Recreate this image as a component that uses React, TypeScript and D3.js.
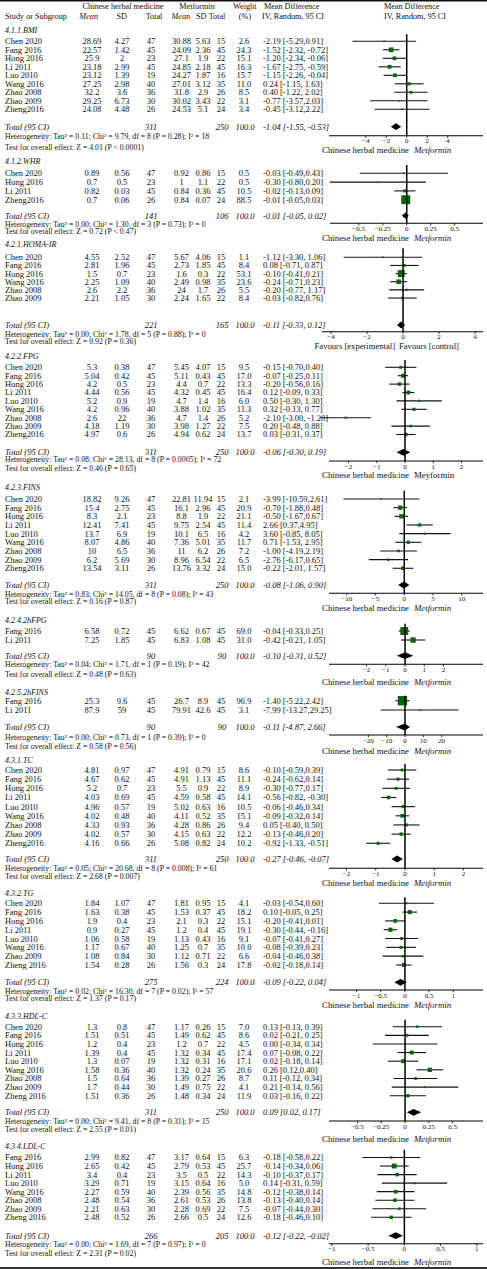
import React from "react";
import * as d3 from "d3";

// ---------- DATA ----------
// [study, expMean, expSD, expN, ctlMean, ctlSD, ctlN, weight, ciText, md, lo, hi]
type Row = [string, string, string, string, string, string, string, string, string, number, number, number];
type Total = [string, string, string, string, number, number, number];

const BMI_ROWS: Row[] = [
  ["Chen 2020", "28.69", "4.27", "47", "30.88", "5.63", "15", "2.6", "-2.19 [-5.29,0.91]", -2.19, -5.29, 0.91],
  ["Fang 2016", "22.57", "1.42", "45", "24.09", "2.36", "45", "24.3", "-1.52 [-2.32, -0.72]", -1.52, -2.32, -0.72],
  ["Hong 2016", "25.9", "2", "23", "27.1", "1.9", "22", "15.1", "-1.20 [-2.34, -0.06]", -1.2, -2.34, -0.06],
  ["Li 2011", "23.18", "2.99", "45", "24.85", "2.18", "45", "16.3", "-1.67 [-2.75, -0.59]", -1.67, -2.75, -0.59],
  ["Luo 2010", "23.12", "1.39", "19", "24.27", "1.87", "16", "15.7", "-1.15 [-2.26, -0.04]", -1.15, -2.26, -0.04],
  ["Wang 2016", "27.25", "2.98", "40", "27.01", "3.12", "35", "11.0", "0.24 [-1.15, 1.63]", 0.24, -1.15, 1.63],
  ["Zhao 2008", "32.2", "3.6", "36", "31.8", "2.9", "26", "8.5", "0.40 [-1.22, 2.02]", 0.4, -1.22, 2.02],
  ["Zhao 2009", "29.25", "6.73", "30", "30.02", "3.43", "22", "3.1", "-0.77 [-3.57,2.03]", -0.77, -3.57, 2.03],
  ["Zheng2016", "24.08", "4.48", "26", "24.53", "5.1", "24", "3.4", "-0.45 [-3.12,2.22]", -0.45, -3.12, 2.22],
];
const BMI_TOTAL: Total = ["311", "250", "100.0", "-1.04 [-1.55, -0.53]", -1.04, -1.55, -0.53];
const BMI_HET = "Heterogeneity: Tau\u00B2 = 0.11; Chi\u00B2 = 9.79, df = 8 (P = 0.28); I\u00B2 = 18";
const BMI_TEST = "Test for overall effect: Z = 4.01 (P < 0.0001)";
const BMI_TICKS = [-4, -2, 0, 2, 4];
const BMI_DOMAIN = [-7.58, 7.44];

const WHR_ROWS: Row[] = [
  ["Chen 2020", "0.89", "0.56", "47", "0.92", "0.86", "15", "0.5", "-0.03 [-0.49,0.43]", -0.03, -0.49, 0.43],
  ["Hong 2016", "0.7", "0.5", "23", "1", "1.1", "22", "0.5", "-0.30 [-0.80,0.20]", -0.3, -0.8, 0.2],
  ["Li 2011", "0.82", "0.03", "45", "0.84", "0.36", "45", "10.5", "-0.02 [-0.13,0.09]", -0.02, -0.13, 0.09],
  ["Zheng2016", "0.7", "0.06", "26", "0.84", "0.07", "24", "88.5", "-0.01 [-0.05,0.03]", -0.01, -0.05, 0.03],
];
const WHR_TOTAL: Total = ["141", "106", "100.0", "-0.01 [-0.05, 0.02]", -0.01, -0.05, 0.02];
const WHR_HET = "Heterogeneity: Tau\u00B2 = 0.00; Chi\u00B2 = 1.30, df = 3 (P = 0.73); I\u00B2 = 0";
const WHR_TEST = "Test for overall effect: Z = 0.72 (P < 0.47)";
const WHR_TICKS = [-0.5, -0.25, 0, 0.25, 0.5];
const WHR_DOMAIN = [-0.8, 0.795];

const HOMA_ROWS: Row[] = [
  ["Chen 2020", "4.55", "2.52", "47", "5.67", "4.06", "15", "1.1", "-1.12 [-3.30, 1.06]", -1.12, -3.3, 1.06],
  ["Fang 2016", "2.81", "1.96", "45", "2.73", "1.85", "45", "8.4", "0.08 [-0.71, 0.87]", 0.08, -0.71, 0.87],
  ["Hong 2016", "1.5", "0.7", "23", "1.6", "0.3", "22", "53.1", "-0.10 [-0.41,0.21]", -0.1, -0.41, 0.21],
  ["Wang 2016", "2.25", "1.09", "40", "2.49", "0.98", "35", "23.6", "-0.24 [-0.71,0.23]", -0.24, -0.71, 0.23],
  ["Zhao 2008", "2.6", "2.2", "36", "24", "1.7", "26", "5.5", "-0.20 [-0.77, 1.17]", 0.2, -0.77, 1.17],
  ["Zhao 2009", "2.21", "1.05", "30", "2.24", "1.65", "22", "8.4", "-0.03 [-0.82,0.76]", -0.03, -0.82, 0.76],
];
const HOMA_TOTAL: Total = ["221", "165", "100.0", "-0.11 [-0.33, 0.12]", -0.11, -0.33, 0.12];
const HOMA_HET = "Heterogeneity: Tau\u00B2 = 0.00; Chi\u00B2 = 1.78, df = 5 (P = 0.88); I\u00B2 = 0";
const HOMA_TEST = "Test for overall effect: Z = 0.92 (P = 0.36)";
const HOMA_TICKS = [-4, -2, 0, 2, 4];
const HOMA_DOMAIN = [-4.5, 4.44];

const FPG_ROWS: Row[] = [
  ["Chen 2020", "5.3", "0.38", "47", "5.45", "4.07", "15", "9.5", "-0.15 [-0.70,0.40]", -0.15, -0.7, 0.4],
  ["Fang 2016", "5.04", "0.42", "45", "5.11", "0.43", "45", "17.0", "-0.07 [-0.25,0.11]", -0.07, -0.25, 0.11],
  ["Hong 2016", "4.2", "0.5", "23", "4.4", "0.7", "22", "13.3", "-0.20 [-0.56,0.16]", -0.2, -0.56, 0.16],
  ["Li 2011", "4.44", "0.56", "45", "4.32", "0.45", "45", "16.4", "0.12 [-0.09, 0.33]", 0.12, -0.09, 0.33],
  ["Luo 2010", "5.2", "0.9", "19", "4.7", "1.4", "16", "6.0", "0.50 [-0.30, 1.30]", 0.5, -0.3, 1.3],
  ["Wang 2016", "4.2", "0.96", "40", "3.88", "1.02", "35", "11.3", "0.32 [-0.13, 0.77]", 0.32, -0.13, 0.77],
  ["Zhao 2008", "2.6", "22", "36", "4.7", "1.4", "26", "5.2", "-2.10 [-3.00, -1.20]", -2.1, -3.0, -1.2],
  ["Zhao 2009", "4.18", "1.19", "30", "3.98", "1.27", "22", "7.5", "0.20 [-0.48, 0.88]", 0.2, -0.48, 0.88],
  ["Zheng2016", "4.97", "0.6", "26", "4.94", "0.62", "24", "13.7", "0.03 [-0.31, 0.37]", 0.03, -0.31, 0.37],
];
const FPG_TOTAL: Total = ["311", "250", "100.0", "-0.06 [-0.30, 0.19]", -0.06, -0.3, 0.19];
const FPG_HET = "Heterogeneity: Tau\u00B2 = 0.08; Chi\u00B2 = 28.13, df = 8 (P = 0.0005); I\u00B2 = 72";
const FPG_TEST = "Test for overall effect: Z = 0.46 (P = 0.65)";
const FPG_TICKS = [-2, -1, 0, 1, 2];
const FPG_DOMAIN = [-2.69, 2.76];

const FINS_ROWS: Row[] = [
  ["Chen 2020", "18.82", "9.26", "47", "22.81", "11.94", "15", "2.1", "-3.99 [-10.59,2.61]", -3.99, -10.59, 2.61],
  ["Fang 2016", "15.4", "2.75", "45", "16.1", "2.96", "45", "20.9", "-0.70 [-1.88,0.48]", -0.7, -1.88, 0.48],
  ["Hong 2016", "8.3", "2.1", "23", "8.8", "1.9", "22", "21.1", "-0.50 [-1.67,0.67]", -0.5, -1.67, 0.67],
  ["Li 2011", "12.41", "7.41", "45", "9.75", "2.54", "45", "11.4", "2.66 [0.37,4.95]", 2.66, 0.37, 4.95],
  ["Luo 2010", "13.7", "6.9", "19", "10.1", "6.5", "16", "4.2", "3.60 [-0.85, 8.05]", 3.6, -0.85, 8.05],
  ["Wang 2016", "8.07", "4.86", "40", "7.36", "5.01", "35", "11.7", "0.71 [-1.53, 2.95]", 0.71, -1.53, 2.95],
  ["Zhao 2008", "10", "6.5", "36", "11", "6.2", "26", "7.2", "-1.00 [-4.19,2.19]", -1.0, -4.19, 2.19],
  ["Zhao 2009", "6.2", "5.69", "30", "8.96", "6.54", "22", "6.5", "-2.76 [-6.17,0.65]", -2.76, -6.17, 0.65],
  ["Zheng2016", "13.54", "3.11", "26", "13.76", "3.32", "24", "15.0", "-0.22 [-2.01, 1.57]", -0.22, -2.01, 1.57],
];
const FINS_TOTAL: Total = ["311", "250", "100.0", "-0.08 [-1.06, 0.90]", -0.08, -1.06, 0.9];
const FINS_HET = "Heterogeneity: Tau\u00B2 = 0.83; Chi\u00B2 = 14.05, df = 8 (P = 0.08); I\u00B2 = 43";
const FINS_TEST = "Test for overall effect: Z = 0.16 (P = 0.87)";
const FINS_TICKS = [-10, -5, 0, 5, 10];
const FINS_DOMAIN = [-13.1, 13.7];

const HFPG_ROWS: Row[] = [
  ["Fang 2016", "6.58", "0.72", "45", "6.62", "0.67", "45", "69.0", "-0.04 [-0.33,0.25]", -0.04, -0.33, 0.25],
  ["Li 2011", "7.25", "1.85", "45", "6.83", "1.08", "45", "31.0", "-0.42 [-0.21, 1.05]", 0.42, -0.21, 1.05],
];
const HFPG_TOTAL: Total = ["90", "90", "100.0", "-0.10 [-0.31, 0.52]", 0.0, -0.43, 0.43];
const HFPG_HET = "Heterogeneity: Tau\u00B2 = 0.04; Chi\u00B2 = 1.71, df = 1 (P = 0.19); I\u00B2 = 42";
const HFPG_TEST = "Test for overall effect: Z = 0.48 (P = 0.63)";
const HFPG_TICKS = [-2, -1, 0, 1, 2];
const HFPG_DOMAIN = [-3.96, 4.06];

const HFINS_ROWS: Row[] = [
  ["Fang 2016", "25.3", "9.6", "45", "26.7", "8.9", "45", "96.9", "-1.40 [-5.22,2.42]", -1.4, -5.22, 2.42],
  ["Li 2011", "87.9", "59", "45", "79.91", "42.6", "45", "3.1", "-7.99 [-13.27,29.25]", 7.99, -13.27, 29.25],
];
const HFINS_TOTAL: Total = ["90", "90", "100.0", "-0.11 [-4.87, 2.66]", -0.11, -4.87, 2.66];
const HFINS_HET = "Heterogeneity: Tau\u00B2 = 0.00; Chi\u00B2 = 0.73, df = 1 (P = 0.39); I\u00B2 = 0";
const HFINS_TEST = "Test for overall effect: Z = 0.58 (P = 0.56)";
const HFINS_TICKS = [-20, -10, 0, 10, 20];
const HFINS_DOMAIN = [-41.5, 42.6];

const TC_ROWS: Row[] = [
  ["Chen 2020", "4.81", "0.97", "47", "4.91", "0.79", "15", "8.6", "-0.10 [-0.59,0.39]", -0.1, -0.59, 0.39],
  ["Fang 2016", "4.67", "0.62", "45", "4.91", "1.13", "45", "11.1", "-0.24 [-0.62,0.14]", -0.24, -0.62, 0.14],
  ["Hong 2016", "5.2", "0.7", "23", "5.5", "0.9", "22", "8.9", "-0.30 [-0.77,0.17]", -0.3, -0.77, 0.17],
  ["Li 2011", "4.03", "0.69", "45", "4.59", "0.58", "45", "14.1", "-0.56 [-0.82, -0.30]", -0.56, -0.82, -0.3],
  ["Luo 2010", "4.96", "0.57", "19", "5.02", "0.63", "16", "10.5", "-0.06 [-0.46,0.34]", -0.06, -0.46, 0.34],
  ["Wang 2016", "4.02", "0.48", "40", "4.11", "0.52", "35", "15.1", "-0.09 [-0.32,0.14]", -0.09, -0.32, 0.14],
  ["Zhao 2008", "4.33", "0.93", "36", "4.28", "0.86", "26", "9.4", "0.05 [-0.40, 0.50]", 0.05, -0.4, 0.5],
  ["Zhao 2009", "4.02", "0.57", "30", "4.15", "0.63", "22", "12.2", "-0.13 [-0.46,0.20]", -0.13, -0.46, 0.2],
  ["Zheng2016", "4.16", "0.66", "26", "5.08", "0.82", "24", "10.2", "-0.92 [-1.33, -0.51]", -0.92, -1.33, -0.51],
];
const TC_TOTAL: Total = ["311", "250", "100.0", "-0.27 [-0.46, -0.07]", -0.27, -0.46, -0.07];
const TC_HET = "Heterogeneity: Tau\u00B2 = 0.05; Chi\u00B2 = 20.68, df = 8 (P = 0.008); I\u00B2 = 61";
const TC_TEST = "Test for overall effect: Z = 2.68 (P = 0.007)";
const TC_TICKS = [-2, -1, 0, 1, 2];
const TC_DOMAIN = [-2.6, 2.67];

const TG_ROWS: Row[] = [
  ["Chen 2020", "1.84", "1.07", "47", "1.81", "0.95", "15", "4.1", "-0.03 [-0.54,0.60]", 0.03, -0.54, 0.6],
  ["Fang 2016", "1.63", "0.38", "45", "1.53", "0.37", "45", "18.2", "0.10 [-0.05, 0.25]", 0.1, -0.05, 0.25],
  ["Hong 2016", "1.9", "0.4", "23", "2.1", "0.3", "22", "15.1", "-0.20 [-0.41,0.01]", -0.2, -0.41, 0.01],
  ["Li 2011", "0.9", "0.27", "45", "1.2", "0.4", "45", "19.1", "-0.30 [-0.44, -0.16]", -0.3, -0.44, -0.16],
  ["Luo 2010", "1.06", "0.58", "19", "1.13", "0.43", "16", "9.1", "-0.07 [-0.41,0.27]", -0.07, -0.41, 0.27],
  ["Wang 2016", "1.17", "0.67", "40", "1.25", "0.7", "35", "10.0", "-0.08 [-0.39,0.23]", -0.08, -0.39, 0.23],
  ["Zhao 2009", "1.08", "0.84", "30", "1.12", "0.71", "22", "6.6", "-0.04 [-0.46,0.38]", -0.04, -0.46, 0.38],
  ["Zheng 2016", "1.54", "0.28", "26", "1.56", "0.3", "24", "17.8", "-0.02 [-0.18,0.14]", -0.02, -0.18, 0.14],
];
const TG_TOTAL: Total = ["275", "224", "100.0", "-0.09 [-0.22, 0.04]", -0.09, -0.22, 0.04];
const TG_HET = "Heterogeneity: Tau\u00B2 = 0.02; Chi\u00B2 = 16.30, df = 7 (P = 0.02); I\u00B2 = 57";
const TG_TEST = "Test for overall effect: Z = 1.37 (P = 0.17)";
const TG_TICKS = [-1, -0.5, 0, 0.5, 1];
const TG_DOMAIN = [-1.57, 1.615];

const HDL_ROWS: Row[] = [
  ["Chen 2020", "1.3", "0.8", "47", "1.17", "0.26", "15", "7.0", "0.13 [-0.13, 0.39]", 0.13, -0.13, 0.39],
  ["Fang 2016", "1.51", "0.51", "45", "1.49", "0.62", "45", "8.6", "0.02 [-0.21, 0.25]", 0.02, -0.21, 0.25],
  ["Hong 2016", "1.2", "0.4", "23", "1.2", "0.7", "22", "4.5", "0.00 [-0.34, 0.34]", 0.0, -0.34, 0.34],
  ["Li 2011", "1.39", "0.4", "45", "1.32", "0.34", "45", "17.4", "0.07 [-0.08, 0.22]", 0.07, -0.08, 0.22],
  ["Luo 2010", "1.3", "0.07", "19", "1.32", "0.31", "16", "17.1", "0.02 [-0.18, 0.14]", -0.02, -0.18, 0.14],
  ["Wang 2016", "1.58", "0.36", "40", "1.32", "0.24", "35", "20.6", "0.26 [0.12,0.40]", 0.26, 0.12, 0.4],
  ["Zhao 2008", "1.5", "0.64", "36", "1.39", "0.27", "26", "8.7", "0.11 [-0.12, 0.34]", 0.11, -0.12, 0.34],
  ["Zhao 2009", "1.7", "0.44", "30", "1.49", "0.75", "22", "4.1", "0.21 [-0.14, 0.56]", 0.21, -0.14, 0.56],
  ["Zheng 2016", "1.51", "0.36", "26", "1.48", "0.34", "24", "11.9", "0.03 [-0.16, 0.22]", 0.03, -0.16, 0.22],
];
const HDL_TOTAL: Total = ["311", "250", "100.0", "0.09 [0.02, 0.17]", 0.09, 0.02, 0.17];
const HDL_HET = "Heterogeneity: Tau\u00B2 = 0.00; Chi\u00B2 = 9.41, df = 8 (P = 0.31); I\u00B2 = 15";
const HDL_TEST = "Test for overall effect: Z = 2.55 (P = 0.01)";
const HDL_TICKS = [-0.5, -0.25, 0, 0.25, 0.5];
const HDL_DOMAIN = [-0.8, 0.82];

const LDL_ROWS: Row[] = [
  ["Fang 2016", "2.99", "0.82", "47", "3.17", "0.64", "15", "6.3", "-0.18 [-0.58,0.22]", -0.18, -0.58, 0.22],
  ["Hong 2016", "2.65", "0.42", "45", "2.79", "0.53", "45", "25.7", "-0.14 [-0.34,0.06]", -0.14, -0.34, 0.06],
  ["Li 2011", "3.4", "0.4", "23", "3.5", "0.5", "22", "14.3", "-0.10 [-0.37,0.17]", -0.1, -0.37, 0.17],
  ["Luo 2010", "3.29", "0.71", "19", "3.15", "0.64", "16", "5.0", "0.14 [-0.31, 0.59]", 0.14, -0.31, 0.59],
  ["Wang 2016", "2.27", "0.59", "40", "2.39", "0.56", "35", "14.8", "-0.12 [-0.38,0.14]", -0.12, -0.38, 0.14],
  ["Zhao 2008", "2.48", "0.54", "36", "2.61", "0.53", "26", "13.8", "-0.13 [-0.40,0.14]", -0.13, -0.4, 0.14],
  ["Zhao 2009", "2.21", "0.63", "30", "2.28", "0.69", "22", "7.5", "-0.07 [-0.44,0.30]", -0.07, -0.44, 0.3],
  ["Zheng 2016", "2.48", "0.52", "26", "2.66", "0.5", "24", "12.6", "-0.18 [-0.46,0.10]", -0.18, -0.46, 0.1],
];
const LDL_TOTAL: Total = ["266", "205", "100.0", "-0.12 [-0.22, -0.02]", -0.12, -0.22, -0.02];
const LDL_HET = "Heterogeneity: Tau\u00B2 = 0.00; Chi\u00B2 = 1.69, df = 7 (P = 0.97); I\u00B2 = 0";
const LDL_TEST = "Test for overall effect: Z = 2.31 (P = 0.02)";
const LDL_TICKS = [-1, -0.5, 0, 0.5, 1];
const LDL_DOMAIN = [-1.04, 1.085];

const CAPTION_STD = ["Chinese herbal medicine", "Metformin"];
const CAPTION_HOMA = ["Favours [experimental]", "Favours [control]"];
const CAPTION_FPG = ["Chinese herbal medicine", "Meyformin"];

const TITLES = [
  "4.1.1.BMI", "4.1.2.WHR", "4.2.1.HOMA-IR", "4.2.2.FPG", "4.2.3.FINS", "4.2.4.2hFPG",
  "4.2.5.2hFINS", "4.3.1.TC", "4.3.2.TG", "4.3.3.HDL-C", "4.3.4.LDL-C",
];

const BLOCKS = [
  { rows: BMI_ROWS, total: BMI_TOTAL, het: BMI_HET, test: BMI_TEST, ticks: BMI_TICKS, domain: BMI_DOMAIN, caption: CAPTION_STD },
  { rows: WHR_ROWS, total: WHR_TOTAL, het: WHR_HET, test: WHR_TEST, ticks: WHR_TICKS, domain: WHR_DOMAIN, caption: CAPTION_STD },
  { rows: HOMA_ROWS, total: HOMA_TOTAL, het: HOMA_HET, test: HOMA_TEST, ticks: HOMA_TICKS, domain: HOMA_DOMAIN, caption: CAPTION_HOMA },
  { rows: FPG_ROWS, total: FPG_TOTAL, het: FPG_HET, test: FPG_TEST, ticks: FPG_TICKS, domain: FPG_DOMAIN, caption: CAPTION_FPG },
  { rows: FINS_ROWS, total: FINS_TOTAL, het: FINS_HET, test: FINS_TEST, ticks: FINS_TICKS, domain: FINS_DOMAIN, caption: CAPTION_STD },
  { rows: HFPG_ROWS, total: HFPG_TOTAL, het: HFPG_HET, test: HFPG_TEST, ticks: HFPG_TICKS, domain: HFPG_DOMAIN, caption: CAPTION_STD },
  { rows: HFINS_ROWS, total: HFINS_TOTAL, het: HFINS_HET, test: HFINS_TEST, ticks: HFINS_TICKS, domain: HFINS_DOMAIN, caption: CAPTION_STD },
  { rows: TC_ROWS, total: TC_TOTAL, het: TC_HET, test: TC_TEST, ticks: TC_TICKS, domain: TC_DOMAIN, caption: CAPTION_STD },
  { rows: TG_ROWS, total: TG_TOTAL, het: TG_HET, test: TG_TEST, ticks: TG_TICKS, domain: TG_DOMAIN, caption: CAPTION_STD },
  { rows: HDL_ROWS, total: HDL_TOTAL, het: HDL_HET, test: HDL_TEST, ticks: HDL_TICKS, domain: HDL_DOMAIN, caption: CAPTION_STD },
  { rows: LDL_ROWS, total: LDL_TOTAL, het: LDL_HET, test: LDL_TEST, ticks: LDL_TICKS, domain: LDL_DOMAIN, caption: CAPTION_STD },
];

// ---------- LAYOUT (vertical positions of each block, text centres) ----------
const LAYOUT = [
  { header: 30.3, row0: 41.3, step: 8.5, total: 126.7, het: 136, test: 147, axis: 135.7, cap: 149.5, x0: 329 },
  { header: 161, row0: 173.3, step: 8.8, total: 215.7, het: 224.3, test: 231.5, axis: 223.3, cap: 236, x0: 330 },
  { header: 244.3, row0: 257.3, step: 8.15, total: 325, het: 334.3, test: 341.5, axis: 331.7, cap: 342, x0: 322 },
  { header: 356, row0: 367.3, step: 8.4, total: 452.3, het: 459.3, test: 468.7, axis: 461, cap: 474.3, x0: 329 },
  { header: 486.7, row0: 499, step: 8.66, total: 585, het: 594.3, test: 601.7, axis: 593.3, cap: 607.7, x0: 329 },
  { header: 619.7, row0: 631, step: 9, total: 655.7, het: 664.7, test: 674, axis: 664.3, cap: 682.3, x0: 329 },
  { header: 691.7, row0: 700.7, step: 9.3, total: 727, het: 737.7, test: 746.3, axis: 735, cap: 750.7, x0: 329 },
  { header: 760, row0: 770, step: 9.16, total: 859, het: 868.3, test: 876, axis: 868.3, cap: 883.3, x0: 329 },
  { header: 893.3, row0: 903.3, step: 8.81, total: 982.3, het: 991.7, test: 998.3, axis: 990, cap: 1005.3, x0: 329 },
  { header: 1015.7, row0: 1026.7, step: 8.625, total: 1112.3, het: 1121, test: 1129.3, axis: 1121, cap: 1139.3, x0: 329 },
  { header: 1145.7, row0: 1157.5, step: 8.54, total: 1235.7, het: 1244.3, test: 1253.3, axis: 1243.7, cap: 1261.7, x0: 329 },
];

const W = 487;
const H = 1269;
const X1 = 483;
const FONT = "'Liberation Serif', 'Times New Roman', serif";
const FS = 8.5;
const GREEN = "#0b640b";

const COL = { study: 5, eMean: 92, eSD: 122, eN: 151, cMean: 181.5, cSD: 203, cN: 221, wt: 244, ci: 263 };

const tickFmt = (v: number) => d3.format("")(v).replace("-", "\u2013");

function Block({ b, L, title }: any) {
  const x = d3.scaleLinear().domain(b.domain).range([L.x0, X1]);
  const y = (i: number) => L.row0 + i * L.step;
  const z = x(0);
  const t = b.total as Total;
  const isHoma = b.caption === CAPTION_HOMA;
  const tickY = L.axis + 5.3;
  const capY = Math.max(L.cap, L.axis + 14.3);
  return (
    <g>
      <text x={COL.study} y={L.header} dy="0.35em" fontStyle="italic" fontSize={8}>{title}</text>
      {b.rows.map((r: Row, i: number) => {
        const yy = y(i);
        const side = Math.max(1.6, Math.sqrt(parseFloat(r[7])) * 0.95);
        return (
          <g key={i}>
            <text x={COL.study} y={yy} dy="0.35em">{r[0]}</text>
            <text x={COL.eMean} y={yy} dy="0.35em" textAnchor="middle">{r[1]}</text>
            <text x={COL.eSD} y={yy} dy="0.35em" textAnchor="middle">{r[2]}</text>
            <text x={COL.eN} y={yy} dy="0.35em" textAnchor="middle">{r[3]}</text>
            <text x={COL.cMean} y={yy} dy="0.35em" textAnchor="middle">{r[4]}</text>
            <text x={COL.cSD} y={yy} dy="0.35em" textAnchor="middle">{r[5]}</text>
            <text x={COL.cN} y={yy} dy="0.35em" textAnchor="middle">{r[6]}</text>
            <text x={COL.wt} y={yy} dy="0.35em" textAnchor="middle">{r[7]}</text>
            <text x={COL.ci} y={yy} dy="0.35em">{r[8]}</text>
            <line x1={x(r[10])} x2={x(r[11])} y1={yy} y2={yy} stroke="#111" strokeWidth={1.1} />
            <rect x={x(r[9]) - side / 2} y={yy - side / 2} width={side} height={side} fill={GREEN} />
          </g>
        );
      })}
      <g fontStyle="italic">
        <text x={COL.study} y={L.total} dy="0.35em">Total (95 CI)</text>
        <text x={COL.eN} y={L.total} dy="0.35em" textAnchor="middle">{t[0]}</text>
        <text x={COL.cN + 1} y={L.total} dy="0.35em" textAnchor="middle">{t[1]}</text>
        <text x={COL.wt + 1} y={L.total} dy="0.35em" textAnchor="middle">{t[2]}</text>
        <text x={COL.ci} y={L.total} dy="0.35em">{t[3]}</text>
      </g>
      <text x={COL.study} y={L.het} dy="0.35em" fontSize={7.8}>{b.het}</text>
      <text x={COL.study} y={L.test} dy="0.35em" fontSize={7.8}>{b.test}</text>
      <path
        d={`M${x(t[5])},${L.total} L${x(t[4])},${L.total - 3.4} L${x(t[6])},${L.total} L${x(t[4])},${L.total + 3.4} Z`}
        fill="#000"
      />
      <line x1={z} x2={z} y1={L.header + 4} y2={L.axis} stroke="#000" strokeWidth={1.5} />
      <line x1={L.x0} x2={X1} y1={L.axis} y2={L.axis} stroke="#000" strokeWidth={1.1} />
      {b.ticks.map((tv: number, i: number) => (
        <g key={i}>
          <line x1={x(tv)} x2={x(tv)} y1={L.axis} y2={L.axis + 2.2} stroke="#000" strokeWidth={0.8} />
          <text x={x(tv)} y={tickY} dy="0.35em" textAnchor="middle" fontSize={7}>{tickFmt(tv)}</text>
        </g>
      ))}
      {isHoma ? (
        <g fontSize={8.6}>
          <text x={395} y={capY} dy="0.35em" textAnchor="end">{b.caption[0]}</text>
          <text x={399} y={capY} dy="0.35em">{b.caption[1]}</text>
        </g>
      ) : (
        <g fontSize={8.8}>
          <text x={409} y={capY} dy="0.35em" textAnchor="end">{b.caption[0]}</text>
          <text x={414} y={capY} dy="0.35em" fontStyle={b.caption === CAPTION_FPG ? "normal" : "italic"}>{b.caption[1]}</text>
        </g>
      )}
    </g>
  );
}

export default function App() {
  React.useEffect(() => {
    document.body.style.margin = "0";
  }, []);
  return (
    <div style={{ position: "absolute", left: 0, top: 0 }}>
      <svg width={W} height={H} style={{ display: "block", background: "#fff" }} fontFamily={FONT} fontSize={FS} fill="#111">
        <rect x={0} y={0} width={W} height={H} fill="#fff" />
        <line x1={0} x2={W} y1={0.8} y2={0.8} stroke="#111" strokeWidth={1.6} />
        <line x1={0} x2={W} y1={1268} y2={1268} stroke="#333" strokeWidth={2} />
        <g fontSize={8.2}>
          <text x={123} y={6.3} dy="0.35em" textAnchor="middle">Chinese herbal medicine</text>
          <text x={197} y={6.3} dy="0.35em" textAnchor="middle">Metformin</text>
          <text x={244.7} y={6.3} dy="0.35em" textAnchor="middle">Weight</text>
          <text x={291.7} y={6.3} dy="0.35em" textAnchor="middle">Mean Difference</text>
          <text x={411.7} y={6.3} dy="0.35em" textAnchor="middle">Mean Difference</text>
          <text x={5} y={16.3} dy="0.35em">Study or Subgroup</text>
          <text x={88.7} y={16.3} dy="0.35em" textAnchor="middle" fontStyle="italic">Mean</text>
          <text x={121.7} y={16.3} dy="0.35em" textAnchor="middle">SD</text>
          <text x={154} y={16.3} dy="0.35em" textAnchor="middle">Total</text>
          <text x={180.8} y={16.3} dy="0.35em" textAnchor="middle" fontStyle="italic">Mean</text>
          <text x={201.3} y={16.3} dy="0.35em" textAnchor="middle">SD</text>
          <text x={217} y={16.3} dy="0.35em" textAnchor="middle">Total</text>
          <text x={245} y={16.3} dy="0.35em" textAnchor="middle">(%)</text>
          <text x={293} y={16.3} dy="0.35em" textAnchor="middle">IV, Random, 95 CI</text>
          <text x={415} y={16.3} dy="0.35em" textAnchor="middle">IV, Random, 95 CI</text>
        </g>
        {BLOCKS.map((b, i) => (
          <Block key={i} b={b} L={LAYOUT[i]} title={TITLES[i]} />
        ))}
      </svg>
    </div>
  );
}
